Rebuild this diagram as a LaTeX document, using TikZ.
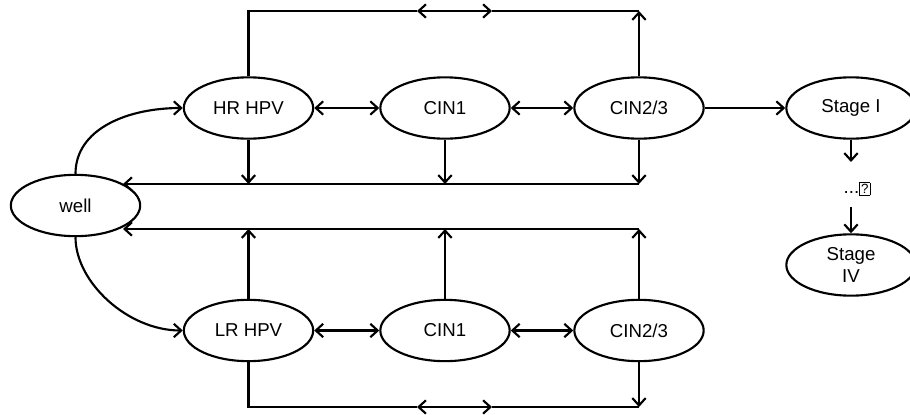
\documentclass[tikz,border=0pt]{standalone}
\usepackage{fontspec}
\setmainfont{Liberation Sans}
\usetikzlibrary{shapes.geometric,arrows.meta}

\tikzset{
  state/.style={draw, ellipse, line width=1.6pt, minimum width=97pt, minimum height=46pt,
    inner sep=0pt, align=center, font=\fontsize{14}{17}\selectfont},
  link/.style={line width=1.6pt},
}

\begin{document}
\begin{tikzpicture}[x=0.75pt,y=0.75pt,yscale=-1,xscale=1,
  >={Straight Barb[length=5.5pt,width=10pt]}]
\useasboundingbox (0,0) rectangle (910,414);

% states
\node[state] (well) at (75.5,205.5) {well};
\node[state] (hr) at (248.5,108) {HR HPV};
\node[state] (cin1a) at (445,108) {CIN1};
\node[state] (cin23a) at (639,108) {CIN2/3};
\node[state] (s1) at (851,108) {Stage I};
\node[state] (lr) at (248.5,330.5) {LR HPV};
\node[state] (cin1b) at (445,330.5) {CIN1};
\node[state] (cin23b) at (639,330.5) {CIN2/3};
\node[state] (s4) at (851,265) {Stage\\IV};
\node[font=\fontsize{14}{17}\selectfont, inner sep=0pt] (dots) at (857,189)
  {...\setlength\fboxsep{0.8pt}\setlength\fboxrule{0.6pt}\fbox{\fontsize{10}{10}\selectfont ?}};

% free ends
\coordinate (tl) at (417,11);
\coordinate (tr) at (492,11);
\coordinate (bl) at (417,407);
\coordinate (br) at (492,407);
\coordinate (hwell) at (123,184);
\coordinate (lwell) at (123,229);
\coordinate (d1) at (851,162);
\coordinate (d2) at (851,207);

% from well
\draw[link,->] (well.north) .. controls +(0,-45) and +(-55,0) .. (hr.west);
\draw[link,->] (well.south) .. controls +(0,45) and +(-55,0) .. (lr.west);

% along the rows
\draw[link,<->] (hr.east) -- (cin1a.west);
\draw[link,<->] (cin1a.east) -- (cin23a.west);
\draw[link,->] (cin23a.east) -- (s1.west);
\draw[link,<->] (lr.east) -- (cin1b.west);
\draw[link,<->] (cin1b.east) -- (cin23b.west);

% top loop
\draw[link] (hr.north) |- (tl);
\draw[link,<->] (tl) -- (tr);
\draw[link] (tr) -- (cin23a.north |- tr);
\draw[link,->] (cin23a.north) -- (cin23a.north |- tr);

% bottom loop
\draw[link] (lr.south) |- (bl);
\draw[link,<->] (bl) -- (br);
\draw[link] (br) -- (cin23b.south |- br);
\draw[link,->] (cin23b.south) -- (cin23b.south |- br);

% back to well
\draw[link,->] (cin23a.south |- hwell) -- (hwell);
\foreach \n in {hr,cin1a,cin23a}
  \draw[link,->] (\n.south) -- (\n.south |- hwell);
\draw[link,->] (cin23b.north |- lwell) -- (lwell);
\foreach \n in {lr,cin1b,cin23b}
  \draw[link,->] (\n.north) -- (\n.north |- lwell);

% stages
\draw[link,->] (s1.south) -- (d1);
\draw[link,->] (d2) -- (s4.north);
\end{tikzpicture}
\end{document}
